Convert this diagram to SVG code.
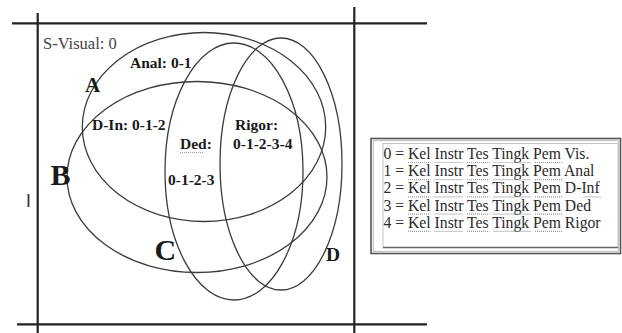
<svg xmlns="http://www.w3.org/2000/svg" width="622" height="333" viewBox="0 0 622 333">
<style>
.frame{stroke:#222;stroke-width:2.2;fill:none}
.set{fill:none;stroke:#3c3c3c;stroke-width:1.3}
.lbl{font-family:"Liberation Serif","Times New Roman",serif;fill:#1a1a1a;font-weight:bold}
.reg{font-family:"Liberation Serif","Times New Roman",serif;fill:#1a1a1a;font-weight:bold;font-size:15.5px}
.leg{font-family:"Liberation Serif","Times New Roman",serif;fill:#2a2a2a;font-size:15.7px}
.sp{stroke:#9a9a9a;stroke-width:1.2;stroke-dasharray:1 1;fill:none}
</style>
<rect width="622" height="333" fill="#ffffff"/>
<g id="frame">
<line class="frame" x1="12" y1="23.3" x2="427" y2="23.3"/>
<line class="frame" x1="17" y1="324.3" x2="427" y2="324.3"/>
<line class="frame" x1="37.7" y1="13" x2="37.7" y2="333"/>
<line class="frame" x1="354.3" y1="7" x2="354.3" y2="333"/>
<line x1="28.5" y1="194" x2="28.5" y2="207" stroke="#333" stroke-width="1.8"/>
<text x="43" y="49" font-family="Liberation Serif, Times New Roman, serif" font-size="16.5" fill="#444">S-Visual: 0</text>
</g>
<g id="set-A">
<ellipse class="set" cx="204" cy="127" rx="121.7" ry="94.5"/>
<text class="lbl" x="85" y="91.5" font-size="21">A</text>
</g>
<g id="set-B">
<ellipse class="set" cx="197" cy="177" rx="130" ry="95.5"/>
<text class="lbl" x="50.5" y="184.5" font-size="30">B</text>
</g>
<g id="set-C">
<ellipse class="set" cx="234" cy="171.5" rx="69" ry="128.5"/>
<text class="lbl" x="154.5" y="260" font-size="30">C</text>
</g>
<g id="set-D">
<ellipse class="set" cx="281" cy="164" rx="61" ry="126"/>
<text class="lbl" x="326" y="260.5" font-size="19.5">D</text>
</g>
<g id="regions">
<text class="reg" x="130" y="68">Anal: 0-1</text>
<text class="reg" x="92" y="130">D-In: 0-1-2</text>
<text class="reg" x="180" y="149">Ded:</text>
<line class="sp" x1="180" y1="152.5" x2="203" y2="152.5"/>
<text class="reg" x="168" y="185">0-1-2-3</text>
<text class="reg" x="235" y="130">Rigor:</text>
<text class="reg" x="233" y="149">0-1-2-3-4</text>
</g>
<g id="legend">
<rect x="371" y="138.5" width="249.5" height="115" fill="#fff" stroke="#555" stroke-width="1.6"/>
<rect x="373.2" y="140.7" width="245.2" height="110.6" fill="none" stroke="#aaa" stroke-width="0.8"/>
<rect x="383" y="143.5" width="235" height="104" fill="none" stroke="#c4c4c4" stroke-width="1"/>
<line x1="383" y1="247.5" x2="618" y2="247.5" stroke="#666" stroke-width="1.4"/>
<text class="leg" x="383.5" y="159">0 = Kel Instr Tes Tingk Pem Vis.</text>
<text class="leg" x="383.5" y="176.2">1 = Kel Instr Tes Tingk Pem Anal</text>
<text class="leg" x="383.5" y="193.4">2 = Kel Instr Tes Tingk Pem D-Inf</text>
<text class="leg" x="383.5" y="210.6">3 = Kel Instr Tes Tingk Pem Ded</text>
<text class="leg" x="383.5" y="227.8">4 = Kel Instr Tes Tingk Pem Rigor</text>
<g class="sp">
<path d="M408 162.5H430.5M434.5 162.5H463M467 162.5H489.5M493.5 162.5H531M535 162.5H563"/>
<path d="M408 179.7H430.5M434.5 179.7H463M467 179.7H489.5M493.5 179.7H531M535 179.7H563"/>
<path d="M408 196.9H430.5M434.5 196.9H463M467 196.9H489.5M493.5 196.9H531M535 196.9H563M583.5 196.9H601.5"/>
<path d="M408 214.1H430.5M434.5 214.1H463M467 214.1H489.5M493.5 214.1H531M535 214.1H563"/>
<path d="M408 231.3H430.5M434.5 231.3H463M467 231.3H489.5M493.5 231.3H531M535 231.3H563"/>
</g>
</g>
</svg>
